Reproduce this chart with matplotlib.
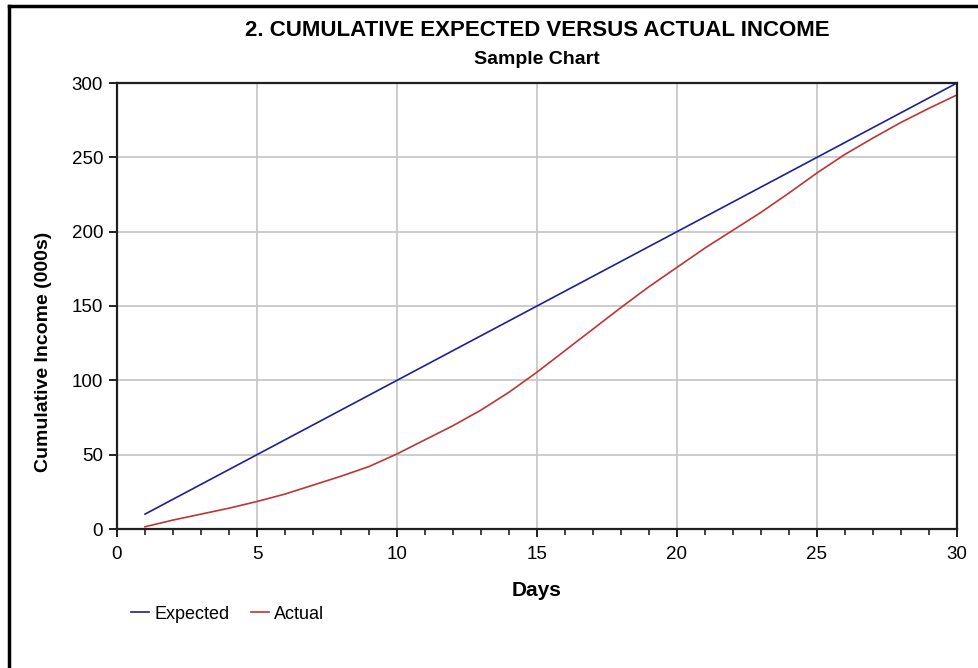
import numpy as np
import matplotlib
matplotlib.use('Agg')
import matplotlib.pyplot as plt
from matplotlib.ticker import MultipleLocator
from matplotlib.lines import Line2D

# data
days = list(range(1, 31))
expected = [10, 20, 30, 40, 50, 60, 70, 80, 90, 100,
            110, 120, 130, 140, 150, 160, 170, 180, 190, 200,
            210, 220, 230, 240, 250, 260, 270, 280, 290, 300]
actual = [1.5, 6, 10, 14, 18.5, 23.5, 29.5, 35.5, 42, 50.5,
          60, 69.5, 80, 92, 105.5, 120, 134.5, 149, 163, 176,
          189, 201, 213, 226, 239.5, 252, 263, 273.5, 283, 292]
series_names = ['Expected', 'Actual']
title = '2. CUMULATIVE EXPECTED VERSUS ACTUAL INCOME'
subtitle = 'Sample Chart'

plt.rcParams['font.family'] = ['Liberation Sans', 'DejaVu Sans']

fig = plt.figure(figsize=(9.79, 6.68), dpi=100)
ax = fig.add_axes([117/979, 1-529/668, 840/979, 446/668])

ax.plot(days, expected, color='#1f1f96', lw=1.2, label=series_names[0])
ax.plot(days, actual, color='#c03434', lw=1.2, label=series_names[1])

ax.set_xlim(0, 30)
ax.set_ylim(0, 300)
ax.xaxis.set_major_locator(MultipleLocator(5))
ax.xaxis.set_minor_locator(MultipleLocator(1))
ax.yaxis.set_major_locator(MultipleLocator(50))
ax.grid(True, which='major', color='#c8c8c8', lw=1.3)
ax.set_axisbelow(True)
for s in ax.spines.values():
    s.set_linewidth(1.6)
    s.set_color('#202020')
ax.tick_params(which='major', length=6, width=1.4, labelsize=13.5, color='#202020')
ax.tick_params(axis='x', which='major', pad=6)
ax.tick_params(axis='y', which='major', pad=4)
ax.tick_params(which='minor', length=4, width=1.2, color='#202020')

ax.set_xlabel('Days', fontsize=15, fontweight='bold', labelpad=13)
ax.set_ylabel('Cumulative Income (000s)', fontsize=14, fontweight='bold')
ax.yaxis.set_label_coords(-0.077, 0.397)

fig.text(537/979, 1-30/668, title, fontsize=16, fontweight='bold',
         ha='center', va='center')
fig.text(537/979, 1-60/668, subtitle, fontsize=14, fontweight='bold',
         ha='center', va='center')

leg = ax.legend(loc='upper left', bbox_to_anchor=(118/979, 1-593/668),
                bbox_transform=fig.transFigure, ncol=2, frameon=False,
                fontsize=13, handlelength=1.0, handletextpad=0.3,
                columnspacing=1.2, borderpad=0.2)

# outer frame (left and top edges are visible in the reference)
fig.add_artist(Line2D([9/979, 9/979], [0, 1-6/668], color='black', lw=2.5,
                      transform=fig.transFigure))
fig.add_artist(Line2D([9/979, 1], [1-6/668, 1-6/668], color='black', lw=2.5,
                      transform=fig.transFigure))

fig.savefig('out.png', dpi=100)
